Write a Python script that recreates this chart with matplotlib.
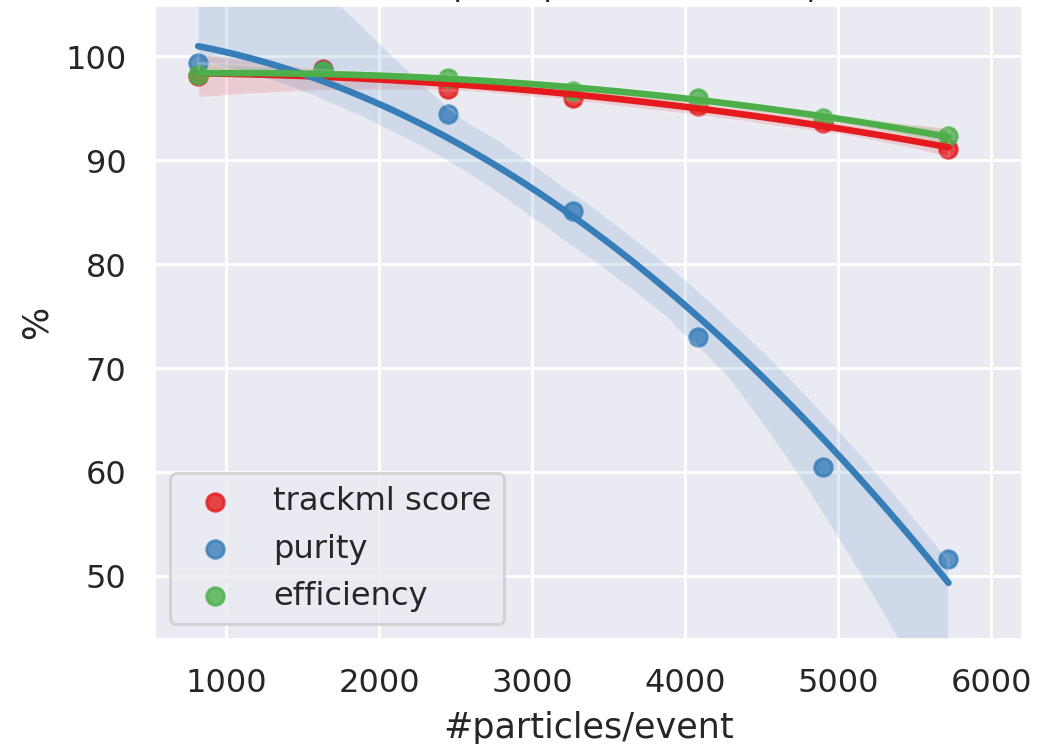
import numpy as np
import matplotlib
matplotlib.use("Agg")
import matplotlib.pyplot as plt
import seaborn as sns

# ---- data ----
particles = [817, 1634, 2451, 3268, 4085, 4902, 5719]
trackml_score = [98.1, 98.8, 96.9, 96.0, 95.2, 93.55, 91.1]
purity = [99.4, 98.6, 94.5, 85.1, 73.0, 60.5, 51.6]
efficiency = [98.2, 98.6, 97.95, 96.66, 96.02, 94.09, 92.32]
series_labels = ["trackml score", "purity", "efficiency"]
x_ticks = [1000, 2000, 3000, 4000, 5000, 6000]
y_ticks = [50, 60, 70, 80, 90, 100]
title_text = "Scores \u2013 effect of pile-up on the overall performance"
x_label = "#particles/event"
y_label = "%"

sns.set_theme(style="darkgrid", context="notebook")
plt.rcParams['font.family'] = ['DejaVu Sans']
colors = sns.color_palette("Set1", 3)

DPI = 210
W, H = 1048, 744
fig = plt.figure(figsize=((W + 0.5) / DPI, (H + 0.5) / DPI), dpi=DPI)
ax = fig.add_axes([154 / W, 1 - 640 / H, (1023 - 154) / W, (640 - 5) / H])

series = [trackml_score, purity, efficiency]
for vals, lab, col in zip(series, series_labels, colors):
    sns.regplot(x=np.array(particles, dtype=float), y=np.array(vals, dtype=float),
                order=2, color=col, label=lab, ax=ax, seed=0)

ax.set_xlim(529, 6209)
ax.set_ylim(43.83, 105.0)
ax.set_xticks(x_ticks)
ax.set_yticks(y_ticks)
ax.set_xlabel(x_label)
ax.set_ylabel(y_label)
ax.set_title(title_text, pad=3.3, fontsize=11)
ax.legend(loc="lower left")

fig.savefig("out.png", dpi=DPI)
